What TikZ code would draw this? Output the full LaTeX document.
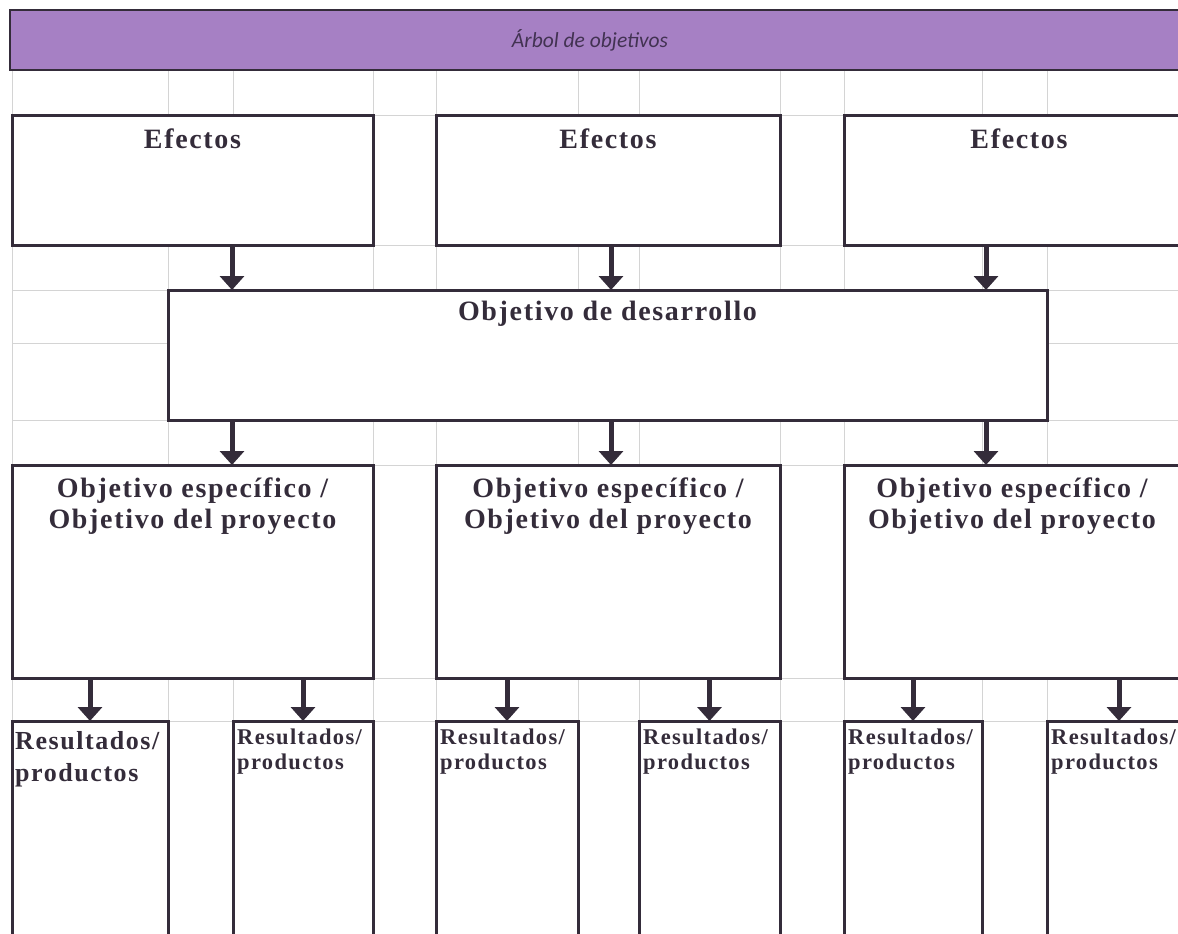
\documentclass[tikz,border=0pt]{standalone}
\usepackage{fontspec}
\setmainfont{Liberation Serif}
\newfontfamily\titlefont{Carlito}
\newfontfamily\boxfont[LetterSpace=6]{Liberation Serif}
\usetikzlibrary{arrows.meta,positioning}

\definecolor{barpurple}{RGB}{166,128,196}
\definecolor{inkgray}{RGB}{52,44,58}
\definecolor{titleink}{RGB}{66,50,82}
\definecolor{gridgray}{RGB}{212,212,212}

\tikzset{
  treebox/.style={draw=inkgray, line width=3pt, fill=white, anchor=north west,
                  inner sep=0pt, outer sep=0pt},
  boxtext/.style={inner sep=0pt, text=inkgray, align=center,
                  font=\boxfont\bfseries\fontsize{28}{31}\selectfont},
  restext/.style={inner sep=0pt, text=inkgray, align=left,
                  font=\boxfont\bfseries\fontsize{22.5}{25}\selectfont},
  downarrow/.style={draw=inkgray, line width=5pt, -{Triangle[length=14pt, width=24pt]}},
  gridline/.style={draw=gridgray, line width=1pt},
}

\begin{document}
\begin{tikzpicture}[x=1pt, y=-1pt]
  \useasboundingbox (0,0) rectangle (1178,934);
  \clip (0,0) rectangle (1178,934);

  % sheet grid
  \foreach \gx in {12,168,233,373,436,578,639,780,844,982,1047}
  {  \draw[gridline] (\gx,70) -- (\gx,934);}
  \foreach \gy in {115,245,290,343,420,465,678,721}
  {  \draw[gridline] (12,\gy) -- (1178,\gy);}

  % title bar
  \node[draw=inkgray, line width=2pt, fill=barpurple, anchor=north west, outer sep=0pt,
        minimum width=1180, minimum height=60] (bar) at (10,10) {};
  \node[text=titleink, font=\titlefont\itshape\fontsize{21.5}{25}\selectfont] (title) at (590,40) {Árbol de objetivos};

  % boxes
  \node[treebox, minimum width=361, minimum height=130] (efA) at (12,115) {};
  \node[treebox, minimum width=344, minimum height=130] (efB) at (436,115) {};
  \node[treebox, minimum width=350, minimum height=130] (efC) at (844,115) {};
  \node[treebox, minimum width=879, minimum height=130] (desarrollo) at (168,290) {};
  \node[treebox, minimum width=361, minimum height=213] (espA) at (12,465) {};
  \node[treebox, minimum width=344, minimum height=213] (espB) at (436,465) {};
  \node[treebox, minimum width=336, minimum height=213] (espC) at (844,465) {};
  \node[treebox, minimum width=156, minimum height=260] (resA) at (12,721) {};
  \node[treebox, minimum width=140, minimum height=260] (resB) at (233,721) {};
  \node[treebox, minimum width=142, minimum height=260] (resC) at (436,721) {};
  \node[treebox, minimum width=141, minimum height=260] (resD) at (639,721) {};
  \node[treebox, minimum width=138, minimum height=260] (resE) at (844,721) {};
  \node[treebox, minimum width=144, minimum height=260] (resF) at (1047,721) {};

  % box texts
  \node[boxtext, below=14pt of efA.north] (efAt) {Efectos};
  \node[boxtext, below=14pt of efB.north] (efBt) {Efectos};
  \node[boxtext, below=14pt of efC.north] (efCt) {Efectos};
  \node[boxtext, below=11pt of desarrollo.north] (desarrollot) {Objetivo de desarrollo};
  \node[boxtext, below=13pt of espA.north] (espAt) {Objetivo específico /\\Objetivo del proyecto};
  \node[boxtext, below=13pt of espB.north] (espBt) {Objetivo específico /\\Objetivo del proyecto};
  \node[boxtext, below=13pt of espC.north] (espCt) {Objetivo específico /\\Objetivo del proyecto};
  \node[restext, font=\boxfont\bfseries\fontsize{26}{32}\selectfont,
        below right=10pt and 3pt of resA.north west] (resAt) {Resultados/\\productos};
  \foreach \r in {resB,resC,resD,resE,resF}
  {  \node[restext, below right=8pt and 4pt of \r.north west] (\r t) {Resultados/\\productos};}

  % arrows
  \coordinate (ax1) at (232,0);
  \coordinate (ax2) at (611,0);
  \coordinate (ax3) at (986,0);
  \def\upper {efA/ax1, efB/ax2, efC/ax3}  % effects to development objective
  \foreach \u\a in \upper
  {  \draw[downarrow] (\u.south -| \a) -- (desarrollo.north -| \a);}
  \def\middle {espA/ax1, espB/ax2, espC/ax3}  % development objective to specific objectives
  \foreach \v\a in \middle
  {  \draw[downarrow] (desarrollo.south -| \a) -- (\v.north -| \a);}
  \def\lower {espA/resA, espA/resB, espB/resC, espB/resD, espC/resE, espC/resF}  % objectives to results
  \foreach \u\v in \lower
  {  \draw[downarrow] (\u.south -| \v.north) -- (\v.north);}
\end{tikzpicture}
\end{document}
